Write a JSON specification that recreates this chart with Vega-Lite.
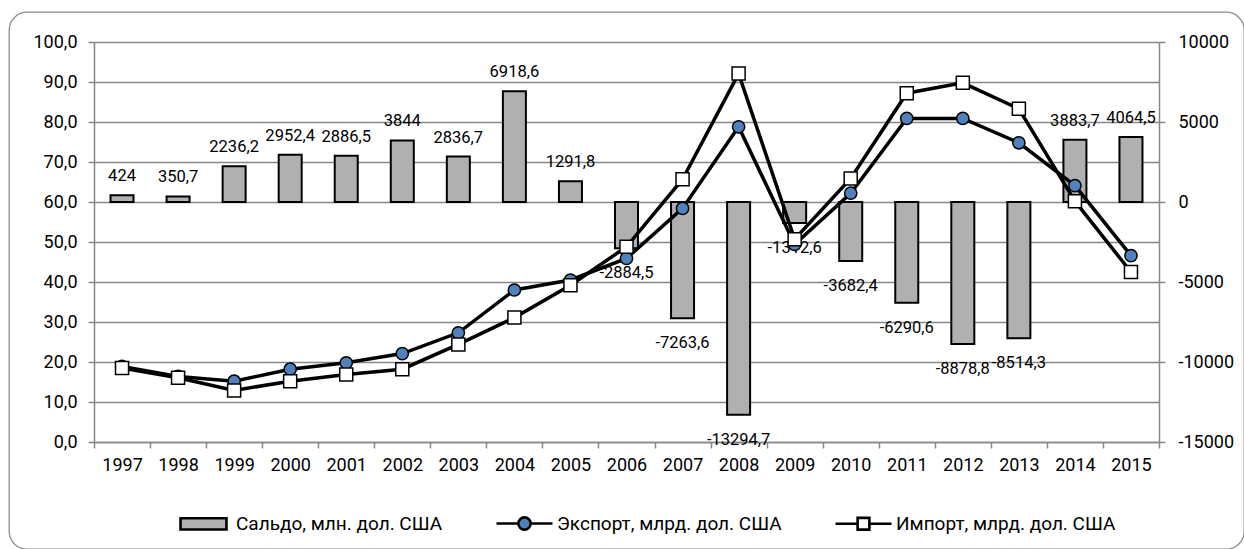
{
  "$schema": "https://vega.github.io/schema/vega-lite/v6.json",
  "width": 1235,
  "height": 537,
  "autosize": "none",
  "padding": {"left": 9, "top": 12, "right": 0, "bottom": 0},
  "background": "white",
  "config": {
    "locale": {"number": {"decimal": ",", "thousands": " ", "grouping": [3], "currency": ["", ""], "minus": "-"}},
    "view": {"stroke": "#8c8c8c", "strokeWidth": 1.3, "cornerRadius": 18},
    "font": "Roboto",
    "axis": {"labelFont": "Roboto", "labelFontSize": 18, "labelColor": "#000000", "domainColor": "#878787", "domainWidth": 1.5, "tickColor": "#878787", "tickWidth": 1.5, "gridColor": "#878787", "gridWidth": 1.5, "title": null}
  },
  "data": {"values": [
    {"year": 1997, "saldo": 424, "export": 18.9, "import": 18.5},
    {"year": 1998, "saldo": 350.7, "export": 16.4, "import": 16.05},
    {"year": 1999, "saldo": 2236.2, "export": 15.2, "import": 12.9},
    {"year": 2000, "saldo": 2952.4, "export": 18.2, "import": 15.2},
    {"year": 2001, "saldo": 2886.5, "export": 19.8, "import": 16.9},
    {"year": 2002, "saldo": 3844, "export": 22.1, "import": 18.2},
    {"year": 2003, "saldo": 2836.7, "export": 27.3, "import": 24.4},
    {"year": 2004, "saldo": 6918.6, "export": 38.0, "import": 31.1},
    {"year": 2005, "saldo": 1291.8, "export": 40.5, "import": 39.2},
    {"year": 2006, "saldo": -2884.5, "export": 45.9, "import": 48.8},
    {"year": 2007, "saldo": -7263.6, "export": 58.4, "import": 65.7},
    {"year": 2008, "saldo": -13294.7, "export": 78.8, "import": 92.1},
    {"year": 2009, "saldo": -1312.6, "export": 49.4, "import": 50.7},
    {"year": 2010, "saldo": -3682.4, "export": 62.2, "import": 65.9},
    {"year": 2011, "saldo": -6290.6, "export": 80.9, "import": 87.2},
    {"year": 2012, "saldo": -8878.8, "export": 80.9, "import": 89.8},
    {"year": 2013, "saldo": -8514.3, "export": 74.8, "import": 83.3},
    {"year": 2014, "saldo": 3883.7, "export": 64.1, "import": 60.2},
    {"year": 2015, "saldo": 4064.5, "export": 46.6, "import": 42.5}
  ]},
  "encoding": {
    "x": {
      "field": "year", "type": "ordinal",
      "scale": {"range": [85, 1150], "paddingInner": 0, "paddingOuter": 0},
      "axis": {"orient": "bottom", "offset": -107, "tickBand": "extent", "labelAngle": 0, "grid": false, "tickSize": 6, "labelPadding": 8, "title": null}
    }
  },
  "layer": [
    {
      "encoding": {
        "y": {
          "field": "saldo", "type": "quantitative",
          "scale": {"domain": [-15000, 10000], "range": [430, 30], "nice": false, "zero": false},
          "axis": {"orient": "right", "offset": -85, "values": [-15000, -10000, -5000, 0, 5000, 10000], "format": "d", "grid": false, "tickSize": 6, "labelPadding": 13, "title": null}
        }
      },
      "layer": [
        {
          "mark": {"type": "bar", "size": 23, "fill": "#b0b0b0", "stroke": "#000000", "strokeWidth": 2},
          "encoding": {"y2": {"datum": 0}}
        },
        {
          "transform": [{"filter": "datum.saldo >= 0"}],
          "mark": {"type": "text", "dy": -19, "font": "Roboto", "fontSize": 16.5, "color": "#000000", "baseline": "middle"},
          "encoding": {"text": {"field": "saldo", "type": "quantitative", "format": "~f"}}
        },
        {
          "transform": [{"filter": "datum.saldo < 0"}],
          "mark": {"type": "text", "dy": 25, "font": "Roboto", "fontSize": 16.5, "color": "#000000", "baseline": "middle"},
          "encoding": {"text": {"field": "saldo", "type": "quantitative", "format": "~f"}}
        }
      ]
    },
    {
      "layer": [
        {
          "mark": {"type": "line", "stroke": "#000000", "strokeWidth": 3.5},
          "encoding": {
            "y": {
              "field": "export", "type": "quantitative",
              "scale": {"domain": [0, 100], "range": [430, 30], "nice": false},
              "axis": {"orient": "left", "offset": -85, "values": [0, 10, 20, 30, 40, 50, 60, 70, 80, 90, 100], "format": ".1f", "grid": true, "tickSize": 6, "labelPadding": 11, "title": null}
            }
          }
        },
        {
          "mark": {"type": "line", "stroke": "#000000", "strokeWidth": 3.5},
          "encoding": {
            "y": {
              "field": "import", "type": "quantitative",
              "axis": {"orient": "left", "offset": -85, "values": [0, 10, 20, 30, 40, 50, 60, 70, 80, 90, 100], "format": ".1f", "grid": true, "tickSize": 6, "labelPadding": 11, "title": null}
            }
          }
        },
        {
          "mark": {"type": "point", "shape": "circle", "filled": true, "fill": "#4F81BD", "stroke": "#000000", "strokeWidth": 1.5, "size": 150, "opacity": 1},
          "encoding": {
            "y": {
              "field": "export", "type": "quantitative",
              "axis": {"orient": "left", "offset": -85, "values": [0, 10, 20, 30, 40, 50, 60, 70, 80, 90, 100], "format": ".1f", "grid": true, "tickSize": 6, "labelPadding": 11, "title": null}
            }
          }
        },
        {
          "mark": {"type": "point", "shape": "square", "filled": true, "fill": "#ffffff", "stroke": "#000000", "strokeWidth": 1.5, "size": 170, "opacity": 1},
          "encoding": {
            "y": {
              "field": "import", "type": "quantitative",
              "axis": {"orient": "left", "offset": -85, "values": [0, 10, 20, 30, 40, 50, 60, 70, 80, 90, 100], "format": ".1f", "grid": true, "tickSize": 6, "labelPadding": 11, "title": null}
            }
          }
        }
      ]
    },
    {
      "transform": [{"filter": "datum.year < 0"}],
      "mark": {
        "type": "point", "filled": true, "opacity": 1,
        "fill": {"expr": "datum.value === 'Сальдо, млн. дол. США' ? '#b0b0b0' : (datum.value === 'Экспорт, млрд. дол. США' ? '#4F81BD' : '#ffffff')"},
        "stroke": "#000000"
      },
      "encoding": {
        "shape": {
          "datum": "Сальдо, млн. дол. США",
          "scale": {
            "domain": ["Сальдо, млн. дол. США", "Экспорт, млрд. дол. США", "Импорт, млрд. дол. США"],
            "range": [
              "M-0.82,-0.2H0.82V0.2H-0.82Z",
              "M-1,0H-0.22M0.22,0H1M0.22,0A0.22,0.22,0,1,1,-0.22,0A0.22,0.22,0,1,1,0.22,0Z",
              "M-1,0H-0.21M0.21,0H1M-0.21,-0.21H0.21V0.21H-0.21Z"
            ]
          },
          "legend": {
            "orient": "none", "legendX": 165, "legendY": 482, "direction": "horizontal", "title": null,
            "symbolSize": 3136, "labelFontSize": 19, "labelFont": "Roboto", "labelColor": "#000000",
            "labelOffset": 3, "columnPadding": 48, "labelLimit": 400, "padding": 0,
            "symbolOpacity": 1,
            "symbolStrokeWidth": 2.6
          }
        }
      }
    }
  ],
  "resolve": {"scale": {"y": "independent"}}
}
